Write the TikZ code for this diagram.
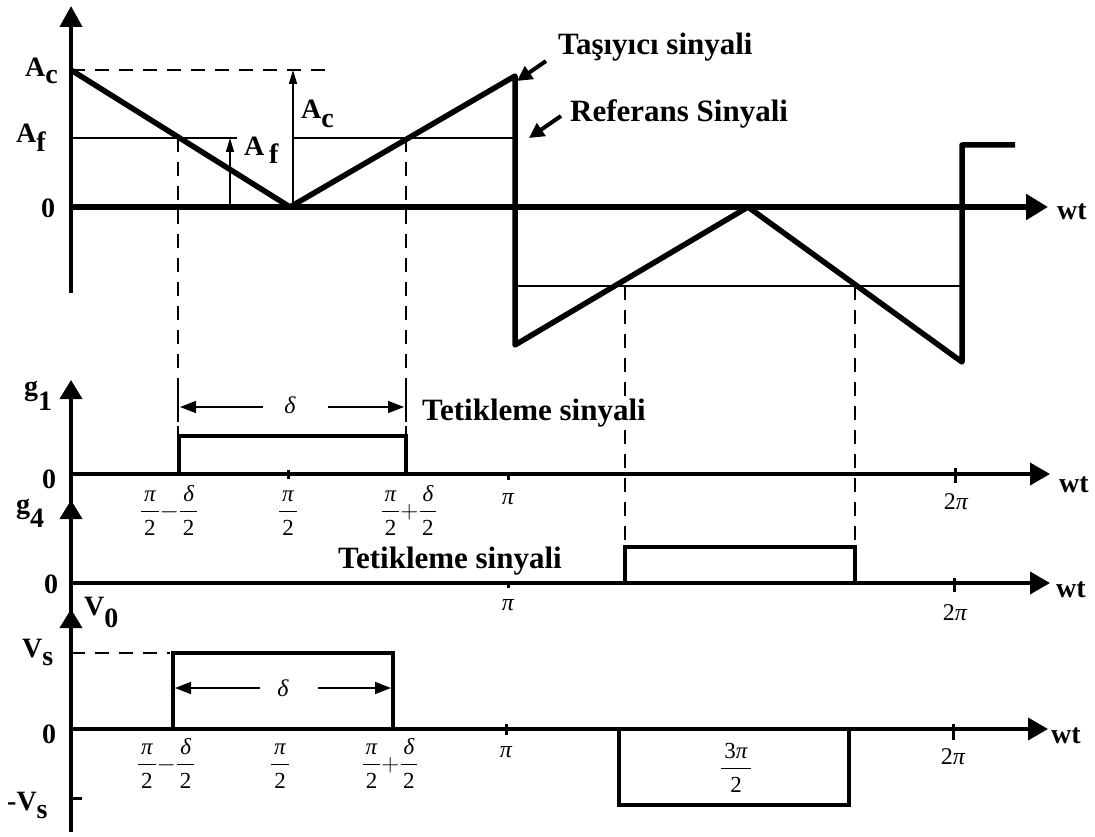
\documentclass[tikz,border=0pt]{standalone}
\usepackage{fontspec}
\usepackage{amsmath}
\setmainfont{Liberation Serif}
\usetikzlibrary{arrows.meta}
\newcommand\pfr[2]{\ensuremath{\dfrac{\kern3pt\text{#1}\kern3pt}{\rule{0pt}{17pt}\text{#2}}}}
\begin{document}
\begin{tikzpicture}[x=1pt,y=-1pt,
  lbl/.style={font=\fontsize{28}{32}\selectfont\bfseries, inner sep=0pt, anchor=base west},
  big/.style={font=\fontsize{31}{36}\selectfont\bfseries, inner sep=0pt, anchor=base west},
  frc/.style={font=\fontsize{23}{27}\selectfont, inner sep=0pt, anchor=base},
  sym/.style={font=\fontsize{24}{28}\selectfont\itshape, inner sep=0pt, anchor=center},
  thinln/.style={line width=1.5pt},
  dsh/.style={line width=1.6pt, dash pattern=on 14pt off 10pt},
  sig/.style={line width=5.5pt, line join=round},
  pulse/.style={line width=3.4pt, line join=miter},
  haxis/.style={line width=3.8pt, -{Triangle[width=22pt,length=20pt]}},
  vaxis/.style={line width=3.8pt, -{Triangle[width=22pt,length=19pt]}},
  small/.style={line width=1.6pt, -{Triangle[width=8pt,length=14pt]}},
  darr/.style={line width=1.6pt, -{Triangle[width=12pt,length=16pt]}},
  callout/.style={line width=4pt, -{Triangle[width=15pt,length=15pt]}},
  tick/.style={line width=3pt}
]
\useasboundingbox (0,0) rectangle (1095,837);

% ---------- top panel ----------
\coordinate (T0) at (71,207);
\coordinate (Tax) at (1048,207);
\coordinate (Tyb) at (71,293);
\coordinate (Tyt) at (71,6);
\draw[dsh] (71,70) -- (335,70);
\draw[thinln] (71,138) -- (237,138);
\draw[thinln] (293,138) -- (515,138);
\draw[thinln] (515,286) -- (962,286);
\draw[dsh] (178,138) -- (178,474);
\draw[dsh] (406,138) -- (406,474);
\draw[dsh] (625,286) -- (625,547);
\draw[dsh] (855,286) -- (855,547);
\draw[line width=4pt, -{Triangle[width=22pt,length=21pt]}] (Tyb) -- (Tyt);
\draw[line width=5.5pt, -{Triangle[width=25pt,length=22pt]}] (T0) -- (Tax);
\draw[sig] (71,70) -- (290,207) -- (515,76) -- (515,345) -- (748,207) -- (962,362) -- (962,145) -- (1015,145);
\draw[small] (293,207) -- (293,70);
\draw[small] (230,207) -- (230,138);

\node[lbl] (lAc) at (25,77) {A\raisebox{-7pt}{c}};
\node[lbl] (lAf) at (16,143) {A\raisebox{-9pt}{f}};
\node[lbl] (l0a) at (41,218) {0};
\node[lbl] (lAc2) at (301,119) {A\raisebox{-9pt}{c}};
\node[lbl] (lAf2) at (244,156) {A\,\raisebox{-8pt}{f}};
\node[lbl] (wt1) at (1057,220) {wt};
\node[big] (tas) at (558,55) {Taşıyıcı sinyali};
\node[big] (ref) at (570,122) {Referans Sinyali};
\coordinate (tasA) at (546,61);
\coordinate (tasB) at (517,81);
\coordinate (refA) at (561,116);
\coordinate (refB) at (529,138);
\draw[callout] (tasA) -- (tasB);
\draw[callout] (refA) -- (refB);

% ---------- left vertical axes ----------
\draw[vaxis] (71,832) -- (71,380);
\draw[vaxis] (71,583) -- (71,500);
\draw[vaxis] (71,729) -- (71,609);

% ---------- g1 panel ----------
\draw[haxis] (71,474) -- (1050,474);
\draw[pulse] (179,474) -- (179,436) -- (406,436) -- (406,474);
\draw[line width=1.6pt] (178,392) -- (178,422);
\draw[line width=1.6pt] (406,392) -- (406,422);
\draw[darr] (263,407) -- (180,407);
\draw[darr] (328,407) -- (404,407);
\node[sym] (d1) at (290,405) {δ};
\node[big] (tet1) at (422,420) {Tetikleme sinyali};
\node[lbl] (g1) at (24,395) {g\raisebox{-15pt}{1}};
\node[lbl] (l0b) at (42,488) {0};
\draw[tick] (288,470) -- (288,479);
\draw[tick] (508,472) -- (508,480);
\draw[tick] (955,468) -- (955,483);
\node[frc] (f1) at (169,518) {\pfr{\itshape π}{2}$-$\pfr{\itshape δ}{2}};
\node[frc] (f2) at (288,518) {\pfr{\itshape π}{2}};
\node[frc] (f3) at (409,518) {\pfr{\itshape π}{2}$+$\pfr{\itshape δ}{2}};
\node[sym] (p1) at (508,499) {π};
\node[sym] (pp1) at (956,502) {\upshape 2\itshape π};
\node[lbl] (wt2) at (1059,492) {wt};

% ---------- g4 panel ----------
\draw[haxis] (71,583) -- (1050,583);
\draw[pulse] (625,583) -- (625,547) -- (855,547) -- (855,583);
\node[big] (tet2) at (338,568) {Tetikleme sinyali};
\node[lbl] (g4) at (16,513) {g\raisebox{-14pt}{4}};
\node[lbl] (l0c) at (44,593) {0};
\draw[tick] (508,581) -- (508,588);
\draw[tick] (954,578) -- (954,592);
\node[sym] (p2) at (508,605) {π};
\node[sym] (pp2) at (955,613) {\upshape 2\itshape π};
\node[lbl] (wt3) at (1056,597) {wt};

% ---------- V0 panel ----------
\draw[haxis] (71,729) -- (1048,729);
\draw[dsh] (71,653) -- (170,653);
\draw[pulse] (173,729) -- (173,653) -- (393,653) -- (393,729);
\draw[pulse] (619,729) -- (619,805) -- (849,805) -- (849,729);
\draw[darr] (260,688) -- (175,688);
\draw[darr] (318,688) -- (391,688);
\node[sym] (d2) at (283,688) {δ};
\node[lbl] (V0) at (84,615) {V\raisebox{-12pt}{0}};
\node[lbl] (Vs) at (22,657) {V\raisebox{-8pt}{s}};
\node[lbl] (l0d) at (42,743) {0};
\node[lbl] (mVs) at (7,810) {-V\raisebox{-8pt}{s}};
\draw[tick] (71,798) -- (82,798);
\draw[tick] (506,724) -- (506,735);
\draw[tick] (953,724) -- (953,740);
\node[frc] (f4) at (166,771) {\pfr{\itshape π}{2}$-$\pfr{\itshape δ}{2}};
\node[frc] (f5) at (280,771) {\pfr{\itshape π}{2}};
\node[frc] (f6) at (390,771) {\pfr{\itshape π}{2}$+$\pfr{\itshape δ}{2}};
\node[frc] (f7) at (736,775) {\pfr{3\itshape π}{2}};
\node[sym] (p3) at (506,752) {π};
\node[sym] (pp3) at (953,757) {\upshape 2\itshape π};
\node[lbl] (wt4) at (1051,743) {wt};
\end{tikzpicture}
\end{document}
